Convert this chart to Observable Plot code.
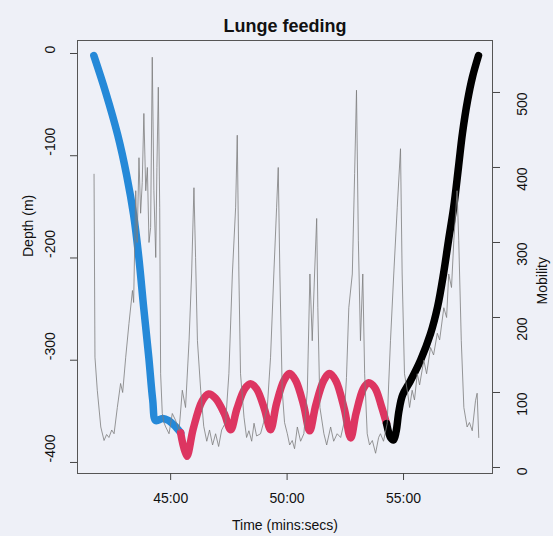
<!DOCTYPE html>
<html>
<head>
<meta charset="utf-8">
<script src="https://cdn.jsdelivr.net/npm/d3@7"></script>
<script src="https://cdn.jsdelivr.net/npm/@observablehq/plot@0.6"></script>
<style>
  html, body { margin: 0; padding: 0; background: #eef0f7; }
  #chart { width: 553px; height: 536px; }
</style>
</head>
<body>
<div id="chart"></div>
<script>
// ---- Data (time in minutes, depth in m, mobility in units) ----
const titleText = "Lunge feeding";
const xLabel = "Time (mins:secs)";
const yLabelLeft = "Depth (m)";
const yLabelRight = "Mobility";

const timeTicks = [45, 50, 55];
const timeTickLabels = ["45:00", "50:00", "55:00"];
const depthTicks = [0, -100, -200, -300, -400];
const mobilityTicks = [0, 100, 200, 300, 400, 500];

// descent phase (blue)
const descent = [
  [41.70, -2], [42.21, -38], [42.73, -80], [43.11, -119], [43.41, -158],
  [43.63, -199], [43.84, -248], [44.06, -297], [44.23, -339], [44.36, -359],
  [44.66, -357], [44.91, -359], [45.17, -364], [45.43, -371]
];
// feeding phase (red)
const feeding = [
  [45.43, -371], [45.69, -394], [45.97, -367], [46.35, -340], [46.63, -333],
  [46.92, -337], [47.30, -352], [47.58, -368], [47.84, -348], [48.18, -328],
  [48.43, -323], [48.69, -328], [49.03, -348], [49.29, -368], [49.54, -343],
  [49.86, -320], [50.11, -313], [50.37, -320], [50.71, -344], [50.97, -369],
  [51.23, -344], [51.57, -320], [51.82, -313], [52.09, -320], [52.46, -348],
  [52.73, -376], [52.96, -352], [53.27, -328], [53.50, -322], [53.77, -327],
  [54.05, -345], [54.27, -362]
];
// ascent phase (black)
const ascent = [
  [54.27, -362], [54.45, -376], [54.57, -378], [54.68, -370], [54.80, -350],
  [54.96, -334], [55.30, -320], [55.73, -300], [56.16, -274], [56.46, -248],
  [56.72, -215], [56.93, -183], [57.15, -151], [57.36, -111], [57.53, -78],
  [57.75, -46], [57.96, -23], [58.22, -2]
];
// mobility trace (grey, right axis)
const mobility = [
  [41.71,391],[41.75,147],[41.85,103],[42.00,54],[42.14,36],[42.25,44],[42.35,40],[42.47,50],
  [42.57,45],[42.71,80],[42.85,112],[42.94,100],[43.07,147],[43.21,192],[43.36,236],[43.41,220],
  [43.50,369],[43.56,300],[43.64,413],[43.71,339],[43.78,380],[43.85,472],[43.93,369],[44.00,400],
  [44.07,300],[44.14,320],[44.21,547],[44.28,369],[44.36,280],[44.41,400],[44.47,507],[44.53,347],
  [44.57,125],[44.64,72],[44.71,60],[44.79,54],[44.93,45],[45.07,72],[45.21,63],[45.36,49],
  [45.50,103],[45.64,80],[45.79,169],[45.90,258],[46.00,373],[46.07,280],[46.15,169],[46.29,103],
  [46.42,55],[46.55,35],[46.67,50],[46.80,30],[46.93,45],[47.06,28],[47.19,50],[47.36,60],
  [47.50,125],[47.65,258],[47.79,347],[47.86,443],[47.93,258],[48.00,125],[48.15,67],[48.26,40],
  [48.36,49],[48.48,35],[48.58,59],[48.69,42],[48.86,45],[48.99,60],[49.15,80],[49.29,147],
  [49.43,258],[49.55,347],[49.62,400],[49.69,258],[49.79,103],[49.89,60],[50.01,45],[50.11,30],
  [50.22,36],[50.32,25],[50.44,54],[50.58,35],[50.72,45],[50.87,103],[50.98,258],[51.08,169],
  [51.18,258],[51.27,332],[51.32,213],[51.41,80],[51.58,45],[51.70,30],[51.87,54],[52.00,35],
  [52.15,45],[52.30,40],[52.44,59],[52.55,120],[52.65,213],[52.80,258],[52.90,392],[52.98,503],
  [53.06,303],[53.15,169],[53.25,258],[53.33,125],[53.44,45],[53.54,30],[53.66,36],[53.80,19],
  [53.93,40],[54.01,45],[54.14,35],[54.30,59],[54.36,110],[54.44,169],[54.58,258],[54.73,347],
  [54.87,425],[54.94,258],[55.04,125],[55.18,99],[55.26,80],[55.37,103],[55.47,90],[55.59,125],
  [55.69,110],[55.87,143],[55.99,125],[56.16,160],[56.29,150],[56.45,179],[56.55,170],[56.73,213],
  [56.85,200],[56.94,258],[57.06,240],[57.16,303],[57.30,369],[57.37,303],[57.48,169],[57.59,80],
  [57.73,54],[57.83,60],[57.95,49],[58.09,89],[58.16,99],[58.23,40]
];

// ---- Scales ----
const xDomain = [41.0, 58.82];
const depthDomain = [-410.8, 12.7];
const mobilityDomain = [-8, 569.3];
// map a mobility value onto the depth (left) scale so both share the frame
const m2d = d3.scaleLinear().domain(mobilityDomain).range(depthDomain);

const font = "'Liberation Sans', Arial, Helvetica, sans-serif";

const chart = Plot.plot({
  width: 553,
  height: 536,
  marginLeft: 77,
  marginRight: 61,
  marginTop: 40,
  marginBottom: 63,
  x: { domain: xDomain },
  y: { domain: depthDomain },
  style: { background: "#eef0f7", fontFamily: font, fontSize: "14px", color: "#111", overflow: "visible" },
  marks: [
    // phases of the dive
    Plot.line(descent, { x: d => d[0], y: d => d[1], stroke: "#2589d8", strokeWidth: 7.5, curve: "catmull-rom", strokeLinecap: "round" }),
    Plot.line(feeding, { x: d => d[0], y: d => d[1], stroke: "#dd3561", strokeWidth: 7.5, curve: "catmull-rom", strokeLinecap: "round" }),
    Plot.line(ascent, { x: d => d[0], y: d => d[1], stroke: "#000", strokeWidth: 7.5, curve: "catmull-rom", strokeLinecap: "round" }),
    // mobility trace
    Plot.line(mobility, { x: d => d[0], y: d => m2d(d[1]), stroke: "#7d7d7d", strokeWidth: 1, strokeOpacity: 0.8 }),
    Plot.frame({ stroke: "#555", strokeWidth: 1 }),
    // axes (ticks only; labels as text)
    Plot.axisX({ ticks: timeTicks, tickSize: 7, tickFormat: () => "", label: null, stroke: "#444" }),
    Plot.axisY({ ticks: depthTicks, tickSize: 7, tickFormat: () => "", label: null, stroke: "#444" }),
    Plot.axisY({ anchor: "right", ticks: mobilityTicks.map(m => m2d(m)), tickSize: 7, tickFormat: () => "", label: null, stroke: "#444" }),
    Plot.text(timeTicks, { x: d => d, frameAnchor: "bottom", dy: 29, text: (d, i) => timeTickLabels[i], fontSize: 14, fill: "#111" }),
    Plot.text(depthTicks, { y: d => d, frameAnchor: "left", dx: -27, rotate: -90, text: d => String(d), fontSize: 14, fill: "#111" }),
    Plot.text(mobilityTicks, { y: d => m2d(d), frameAnchor: "right", dx: 30, rotate: -90, text: d => String(d), fontSize: 14, fill: "#111" }),
    // titles
    Plot.text([titleText], { frameAnchor: "top", dy: -21, text: d => d, fontSize: 18, fontWeight: "bold", fill: "#111" }),
    Plot.text([xLabel], { frameAnchor: "bottom", dy: 56, text: d => d, fontSize: 14, fill: "#111" }),
    Plot.text([yLabelLeft], { frameAnchor: "left", dx: -49, rotate: -90, text: d => d, fontSize: 14, fill: "#111" }),
    Plot.text([yLabelRight], { frameAnchor: "right", dx: 50, rotate: -90, text: d => d, fontSize: 14, fill: "#111" })
  ]
});
document.getElementById("chart").appendChild(chart);
</script>
</body>
</html>
